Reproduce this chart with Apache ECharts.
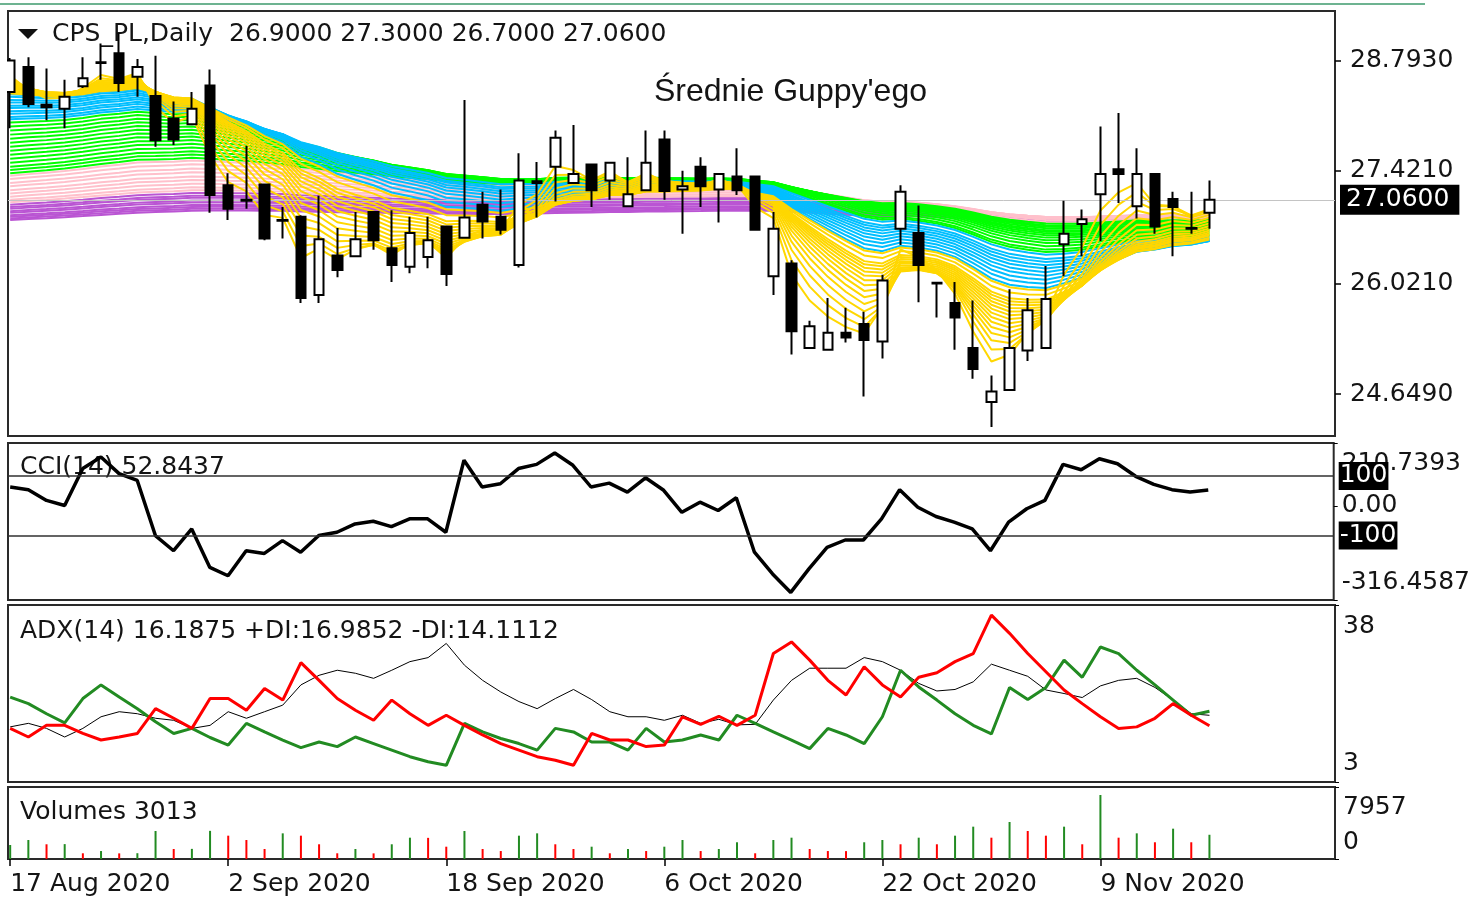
<!DOCTYPE html>
<html>
<head>
<meta charset="utf-8">
<title>CPS_PL Daily - Średnie Guppy'ego</title>
<script src="https://cdn.jsdelivr.net/npm/echarts@6.0.0/dist/echarts.min.js"></script>
<style>
html, body { margin: 0; padding: 0; background: #fff; }
#main { width: 1473px; height: 899px; }
</style>
</head>
<body>
<div id="main"></div>
<script>
// daily bars, 17 Aug 2020 .. 18 Nov 2020 (one entry per session)
var opens  = [28.40,28.71,28.24,28.19,28.47,28.76,28.88,28.59,28.35,28.07,28.00,28.48,27.24,27.06,27.25,26.81,26.85,25.88,26.37,26.36,
              26.91,26.46,26.23,26.35,26.73,26.59,27.00,26.85,26.25,27.29,27.47,27.27,27.50,27.30,26.98,27.18,27.81,27.19,27.47,27.19,
              27.35,27.35,26.11,26.27,25.22,25.20,25.41,25.52,25.30,26.70,26.65,26.03,25.78,25.22,24.55,24.70,25.19,25.22,26.51,26.76,
              27.13,27.44,26.98,27.38,27.07,26.71,26.90];
var highs  = [28.82,28.83,28.69,28.55,28.83,29.00,29.13,28.81,28.85,28.28,28.40,28.68,27.39,27.73,27.26,26.97,26.87,27.11,26.71,26.91,
              26.91,26.93,26.85,26.85,26.74,28.30,27.16,27.19,27.64,27.53,27.92,27.99,27.51,27.53,27.59,27.92,27.92,27.42,27.59,27.38,
              27.70,27.36,26.91,26.31,25.56,25.84,25.72,25.67,26.13,27.24,26.99,26.04,26.04,25.81,24.88,25.95,25.84,26.24,27.05,26.94,
              27.97,28.14,27.70,27.38,27.16,27.16,27.30];
var lows   = [27.95,28.21,28.05,27.95,28.45,28.55,28.40,28.34,27.72,27.74,27.99,26.90,26.81,26.95,26.56,26.58,25.78,25.78,26.10,26.36,
              26.44,26.04,26.15,26.21,25.99,26.59,26.58,26.63,26.22,26.84,27.04,27.27,26.97,27.06,26.98,27.18,27.06,26.64,26.97,26.78,
              27.12,26.69,25.88,25.14,25.22,25.20,25.29,24.62,25.09,26.50,25.79,25.60,25.20,24.84,24.24,24.70,25.06,25.22,26.11,26.36,
              26.55,27.02,26.83,26.64,26.36,26.64,26.70];
var closes = [28.79,28.25,28.21,28.34,28.57,28.77,28.51,28.71,27.80,27.81,28.19,27.12,26.95,27.05,26.58,26.80,25.84,26.57,26.19,26.57,
              26.56,26.25,26.65,26.56,26.14,26.84,26.79,26.69,27.30,27.27,27.83,27.38,27.18,27.52,27.13,27.52,27.17,27.23,27.23,27.38,
              27.18,26.69,26.70,25.43,25.49,25.41,25.35,25.32,26.06,27.16,26.25,26.02,25.60,24.96,24.68,25.22,25.69,25.83,26.64,26.82,
              27.38,27.38,27.38,26.73,26.97,26.70,27.06];
var volumes = [1740,2360,1830,1850,710,990,700,720,3480,1240,1260,3500,2900,2360,1240,3190,2900,1830,710,1240,
               700,1830,2650,2630,1530,3480,1240,990,2900,3190,1830,1240,1530,710,1240,990,1530,2360,990,1240,
               2080,710,2360,2650,1240,990,980,2080,2360,1830,2650,1830,2900,4020,2650,4600,3480,2900,4020,1830,
               7957,2650,3190,2080,3770,2080,3013];
var cci = [62.7,54,18,1,125,164,108,85,-100,-151,-78,-207,-235,-151,-160,-117,-156,-100,-89,-61,
           -52,-70,-44,-44,-89,153,63,74,125,139,177,136,63,76,46,94,52,-22,12,-16,
           27,-156,-229,-291,-212,-140,-115,-115,-44,54,-5,-36,-55,-78,-151,-55,-10,18,139,121,
           158,141,99,72,54,46,52.8437];
var adx = [13.9,14.6,13.6,11.9,13.6,15.9,16.9,16.5,15.6,15.2,13.6,14.2,16.9,15.6,16.9,18.2,22.2,24.1,25.1,24.5,
           23.5,25.1,26.8,27.6,30.4,26.1,23.1,20.8,18.9,17.5,19.5,21.3,19.3,16.9,15.9,15.9,15.2,16.2,14.6,15.4,
           14.3,14.4,19.2,23.1,25.5,25.5,25.5,27.6,26.8,25.1,22.5,21.0,21.3,22.8,26.3,25.1,23.9,21.2,20.5,19.7,
           22.0,23.1,23.5,21.7,19.2,16.5,16.1875];
var plusDI = [19.8,18.5,16.5,14.7,19.5,22.2,19.8,17.5,14.9,12.6,13.6,11.8,10.3,14.6,12.9,11.3,9.8,10.9,10.0,11.9,
              10.6,9.3,8.0,7.0,6.3,14.6,12.9,11.6,10.6,9.3,13.6,12.9,10.9,10.9,9.3,13.6,10.9,11.3,12.3,11.3,
              16.2,14.6,12.9,11.3,9.6,13.6,12.3,10.6,15.9,25.1,21.8,19.2,16.5,14.2,12.5,21.7,19.3,21.7,27.1,23.7,
              29.7,28.4,25.1,22.2,19.2,16.2,16.9852];
var minusDI = [13.6,11.9,14.2,14.2,12.6,11.3,11.9,12.6,17.5,15.6,13.6,19.5,19.5,17.2,21.5,19.2,26.6,23.1,19.5,17.2,
               15.2,19.2,16.5,14.2,16.2,14.2,12.3,10.6,9.3,8.0,7.3,6.3,12.6,11.3,11.3,10.0,10.3,15.9,14.4,16.0,
               14.2,16.2,28.4,30.7,27.1,23.1,20.2,25.8,22.2,19.8,23.7,24.6,26.8,28.4,36.0,32.4,28.4,24.8,21.2,18.5,
               15.9,13.6,13.9,15.6,18.5,16.2,14.1112];

var tickBars = [0, 12, 24, 36, 48, 60];
var tickLabels = ['17 Aug 2020', '2 Sep 2020', '18 Sep 2020', '6 Oct 2020', '22 Oct 2020', '9 Nov 2020'];
var priceTicks = [24.649, 26.021, 27.421, 28.793];
var lastPrice = 27.06;
var cciLevels = [100, -100];

// Guppy groups: EMA periods and the value each line shows at the first bar
var yellowPeriods = [3,4,5,6,7,8,9,10,11,12,13,14,15,16,18,20];
var yellowStart   = [28.60,28.57,28.55,28.53,28.51,28.50,28.49,28.48,28.47,28.46,28.45,28.44,28.43,28.42,28.40,28.38];
var cyanPeriods   = [21,23,25,27,29,31,33,35,37,40];
var cyanStart     = [28.37,28.34,28.30,28.27,28.23,28.20,28.16,28.13,28.09,28.06];
var greenPeriods  = [42,44,47,50,53,56,59,62,65,68,72,76,80,85];
var greenStart    = [28.02,27.97,27.92,27.87,27.82,27.77,27.72,27.67,27.62,27.57,27.52,27.47,27.43,27.39];
var pinkPeriods   = [90,98,106,114,122,130,140,150,160];
var pinkStart     = [27.36,27.32,27.27,27.23,27.18,27.14,27.10,27.06,27.03];
var purplePeriods = [170,180,190,200,210,220,230,240,250];
var purpleStart   = [27.00,26.97,26.95,26.92,26.90,26.87,26.85,26.83,26.81];

var FONT = 'DejaVu Sans';
var TXT = '#141414';
var X_MIN = -0.12, X_MAX = 72.91;

function ema(period, start) {
    var k = 2 / (period + 1), v = start, out = [[0, start]];
    for (var i = 1; i < closes.length; i++) {
        v = v + k * (closes[i] - v);
        out.push([i, +v.toFixed(4)]);
    }
    return out;
}
function pairs(arr) {
    return arr.map(function (v, i) { return [i, v]; });
}
function edgeLabel(min, max, digits, hiPad, loPad, midFmt) {
    return {
        fontFamily: FONT, fontSize: 25, color: TXT, margin: 8,
        customValues: midFmt ? [min, 0, max] : [min, max],
        formatter: function (v) {
            if (Math.abs(v - max) < 1e-6) return '{hi|' + max.toFixed(digits) + '}';
            if (Math.abs(v - min) < 1e-6) return '{lo|' + min.toFixed(digits) + '}';
            return midFmt ? midFmt(v) : String(v);
        },
        rich: {
            hi: { fontFamily: FONT, fontSize: 25, color: TXT, padding: [hiPad, 0, 0, 0] },
            lo: { fontFamily: FONT, fontSize: 25, color: TXT, padding: [0, 0, loPad, 0] }
        }
    };
}

var guppy = [
    { color: '#ba55d3', periods: purplePeriods, start: purpleStart },
    { color: '#ffc0cb', periods: pinkPeriods, start: pinkStart },
    { color: '#00ff00', periods: greenPeriods, start: greenStart },
    { color: '#00bfff', periods: cyanPeriods, start: cyanStart },
    { color: '#ffd700', periods: yellowPeriods, start: yellowStart }
];

var series = [];
guppy.forEach(function (g) {
    g.periods.forEach(function (p, j) {
        series.push({
            type: 'line', xAxisIndex: 0, yAxisIndex: 0, z: 2, silent: true,
            showSymbol: false, data: ema(p, g.start[j]),
            lineStyle: { color: g.color, width: 2 }
        });
    });
});

series.push({
    type: 'candlestick', xAxisIndex: 0, yAxisIndex: 0, z: 5, barWidth: 10, clip: true,
    data: closes.map(function (c, i) { return [i, opens[i], c, lows[i], highs[i]]; }),
    itemStyle: { color: '#fff', color0: '#000', borderColor: '#000', borderColor0: '#000', borderWidth: 2 },
    markLine: {
        silent: true, symbol: ['none', 'none'],
        lineStyle: { color: '#c4c4c4', width: 1, type: 'solid' },
        label: {
            position: 'end', distance: 5, formatter: lastPrice.toFixed(4),
            backgroundColor: '#000', color: '#fff', fontFamily: FONT, fontSize: 25, padding: [3, 10, 2, 6]
        },
        data: [{ yAxis: lastPrice }]
    }
});

series.push({
    type: 'line', xAxisIndex: 1, yAxisIndex: 1, z: 4, showSymbol: false, data: pairs(cci),
    lineStyle: { color: '#000', width: 3.5 },
    markLine: {
        silent: true, symbol: ['none', 'none'],
        lineStyle: { color: '#303030', width: 1.5, type: 'solid' },
        label: {
            position: 'end', distance: 5, formatter: function (p) { return String(p.value); },
            backgroundColor: '#000', color: '#fff', fontFamily: FONT, fontSize: 25, padding: [2, 1, 1, 1]
        },
        data: cciLevels.map(function (v) { return { yAxis: v }; })
    }
});

series.push({ type: 'line', xAxisIndex: 2, yAxisIndex: 2, showSymbol: false, data: pairs(adx),
    lineStyle: { color: '#000', width: 1 } });
series.push({ type: 'line', xAxisIndex: 2, yAxisIndex: 2, showSymbol: false, data: pairs(plusDI),
    lineStyle: { color: '#228b22', width: 3 } });
series.push({ type: 'line', xAxisIndex: 2, yAxisIndex: 2, showSymbol: false, data: pairs(minusDI),
    lineStyle: { color: '#ff0000', width: 3 } });

series.push({
    type: 'bar', xAxisIndex: 3, yAxisIndex: 3, barWidth: 2, data: pairs(volumes),
    itemStyle: {
        color: function (p) {
            var i = p.dataIndex;
            return (i === 0 || volumes[i] >= volumes[i - 1]) ? '#228b22' : '#ff0000';
        }
    }
});

var panes = [
    { top: 11, height: 425 },
    { top: 443, height: 157 },
    { top: 605, height: 177 },
    { top: 787, height: 72 }
];
var grids = panes.map(function (p) {
    return { left: 8, width: 1327, top: p.top, height: p.height, show: true,
             borderColor: '#2a2a2a', borderWidth: 2, backgroundColor: '#fff' };
});

var xAxes = panes.map(function (p, i) {
    var bottom = i === 3;
    return {
        type: 'value', gridIndex: i, min: X_MIN, max: X_MAX, show: bottom,
        splitLine: { show: false }, axisLine: { show: false, onZero: false },
        axisTick: { show: bottom, customValues: tickBars, length: 7, lineStyle: { color: '#000', width: 1.5 } },
        axisLabel: {
            show: bottom, customValues: tickBars, align: 'left', margin: 13,
            fontFamily: FONT, fontSize: 25, color: TXT,
            formatter: function (v) { return tickLabels[tickBars.indexOf(Math.round(v))] || ''; }
        }
    };
});

var cciMin = -316.4587, cciMax = 210.7393;
var yAxes = [
    {
        type: 'value', gridIndex: 0, position: 'right', min: 24.128, max: 29.405,
        splitLine: { show: false }, axisLine: { show: false, onZero: false },
        axisTick: { show: true, customValues: priceTicks, length: 6, lineStyle: { color: '#000', width: 1.5 } },
        axisLabel: { customValues: priceTicks, margin: 15, fontFamily: FONT, fontSize: 25, color: TXT,
                     formatter: function (v) { return v.toFixed(4); } }
    },
    {
        type: 'value', gridIndex: 1, position: 'right', min: cciMin, max: cciMax,
        splitLine: { show: false }, axisLine: { show: false, onZero: false },
        axisTick: { show: true, customValues: [cciMin, 0, cciMax], length: 4, lineStyle: { color: '#000' } },
        axisLabel: edgeLabel(cciMin, cciMax, 4, 40, 36, function (v) { return v.toFixed(2); })
    },
    {
        type: 'value', gridIndex: 2, position: 'right', min: 3, max: 38,
        splitLine: { show: false }, axisLine: { show: false, onZero: false },
        axisTick: { show: true, customValues: [3, 38], length: 4, lineStyle: { color: '#000' } },
        axisLabel: edgeLabel(3, 38, 0, 43, 37)
    },
    {
        type: 'value', gridIndex: 3, position: 'right', min: 0, max: 8952,
        splitLine: { show: false }, axisLine: { show: false, onZero: false },
        axisTick: { show: true, customValues: [0, 8952], length: 4, lineStyle: { color: '#000' } },
        axisLabel: edgeLabel(0, 7957, 0, 24, 34)
    }
];
yAxes[3].axisLabel.customValues = [0, 7957];

function caption(text, x, y, size, family) {
    return { type: 'text', x: x, y: y, z: 0, silent: true,
             style: { text: text, fill: TXT, font: size + 'px "' + (family || FONT) + '"', textVerticalAlign: 'middle' } };
}

var chart = echarts.init(document.getElementById('main'));
chart.setOption({
    animation: false,
    textStyle: { fontFamily: FONT },
    grid: grids,
    xAxis: xAxes,
    yAxis: yAxes,
    series: series,
    graphic: [
        // keep the first candle from spilling over the left pane edge
        { type: 'rect', silent: true, z: 100, shape: { x: 0, y: 12, width: 7, height: 423 }, style: { fill: '#fff' } },
        { type: 'line', silent: true, shape: { x1: 0, y1: 4, x2: 1425, y2: 4 }, style: { stroke: '#3c9a6c', lineWidth: 1.5 } },
        { type: 'polygon', silent: true, shape: { points: [[18, 29], [38, 29], [28, 39]] }, style: { fill: '#111' } },
        caption("CPS_PL,Daily  26.9000 27.3000 26.7000 27.0600", 52, 34, 25),
        caption("Średnie Guppy'ego", 654, 92, 32, 'Liberation Sans'),
        caption('CCI(14) 52.8437', 20, 467, 25),
        caption('ADX(14) 16.1875 +DI:16.9852 -DI:14.1112', 20, 631, 25),
        caption('Volumes 3013', 20, 812, 25)
    ]
});
</script>
</body>
</html>
